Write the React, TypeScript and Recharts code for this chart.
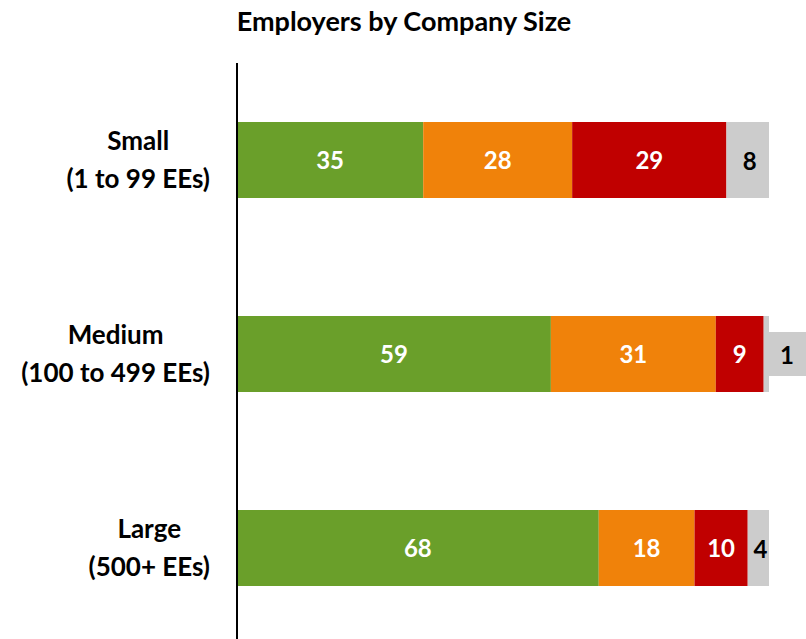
import React from "react";
import { BarChart, Bar, XAxis, YAxis, LabelList } from "recharts";

const sizes = ["Small", "Medium", "Large"];
const ranges = ["(1 to 99 EEs)", "(100 to 499 EEs)", "(500+ EEs)"];
const green = [35, 59, 68];
const orange = [28, 31, 18];
const red = [29, 9, 10];
const grey = [8, 1, 4];

const data = sizes.map((s, i) => ({
  name: s,
  range: ranges[i],
  a: green[i],
  b: orange[i],
  c: red[i],
  d: grey[i],
}));

const FONT = "Lato, 'Open Sans', sans-serif";
const CAT_SIZE = 26;
const VAL_SIZE = 24;

let ctx: CanvasRenderingContext2D | null = null;
function measure(txt: string) {
  if (!ctx) ctx = document.createElement("canvas").getContext("2d");
  if (!ctx) return txt.length * 13;
  ctx.font = `bold ${CAT_SIZE}px Lato`;
  return ctx.measureText(txt).width;
}

function CatTick(props: any) {
  const { y, payload, index } = props;
  const l1 = payload.value as string;
  const l2 = ranges[index] ?? "";
  const w = Math.max(measure(l1), measure(l2));
  const cx = 210 - w / 2;
  return (
    <g>
      <text x={cx} y={y - 20} textAnchor="middle" dominantBaseline="central"
        fontFamily={FONT} fontWeight="bold" fontSize={CAT_SIZE} fill="#000">{l1}</text>
      <text x={cx} y={y + 18} textAnchor="middle" dominantBaseline="central"
        fontFamily={FONT} fontWeight="bold" fontSize={CAT_SIZE} fill="#000">{l2}</text>
    </g>
  );
}

function GreyLabel(props: any) {
  const { x, y, width, height, value } = props;
  const cy = y + height / 2;
  if (width < 10) {
    const bx = x + width - 1;
    return (
      <g>
        <rect x={bx} y={cy - 22} width={38} height={44} fill="#cccccc" />
        <text x={bx + 19} y={cy} textAnchor="middle" dominantBaseline="central"
          fontFamily={FONT} fontWeight="bold" fontSize={VAL_SIZE} fill="#000">{value}</text>
      </g>
    );
  }
  return (
    <text x={x + width / 2 + 2} y={cy} textAnchor="middle" dominantBaseline="central"
      fontFamily={FONT} fontWeight="bold" fontSize={VAL_SIZE} fill="#000">{value}</text>
  );
}

const whiteLabel = { fill: "#fff", fontFamily: FONT, fontWeight: "bold", fontSize: VAL_SIZE };

export default function App() {
  return (
    <div style={{ position: "absolute", left: 0, top: 0, width: 806, height: 639, overflow: "hidden", background: "#fff" }}>
      <div style={{ position: "absolute", left: 0, top: 4, width: 806, textAlign: "center", fontFamily: FONT, fontWeight: "bold", fontSize: 27, color: "#000" }}>
        <span style={{ position: "relative", left: 1 }}>Employers by Company Size</span>
      </div>
      <div style={{ position: "absolute", left: 0, top: 0 }}>
        <BarChart width={806} height={645} data={data} layout="vertical"
          margin={{ top: 63, right: 37, bottom: 0, left: 0 }} barSize={76}>
          <XAxis type="number" domain={[0, 100]} hide />
          <YAxis type="category" dataKey="name" width={237} tickLine={false}
            axisLine={{ stroke: "#000", strokeWidth: 2 }} tick={<CatTick />} interval={0} />
          <Bar dataKey="a" stackId="s" fill="#6a9f2a" isAnimationActive={false}>
            <LabelList dataKey="a" position="center" style={whiteLabel} />
          </Bar>
          <Bar dataKey="b" stackId="s" fill="#f0820a" isAnimationActive={false}>
            <LabelList dataKey="b" position="center" style={whiteLabel} />
          </Bar>
          <Bar dataKey="c" stackId="s" fill="#c00000" isAnimationActive={false}>
            <LabelList dataKey="c" position="center" style={whiteLabel} />
          </Bar>
          <Bar dataKey="d" stackId="s" fill="#cccccc" isAnimationActive={false}>
            <LabelList dataKey="d" content={<GreyLabel />} />
          </Bar>
        </BarChart>
      </div>
    </div>
  );
}
